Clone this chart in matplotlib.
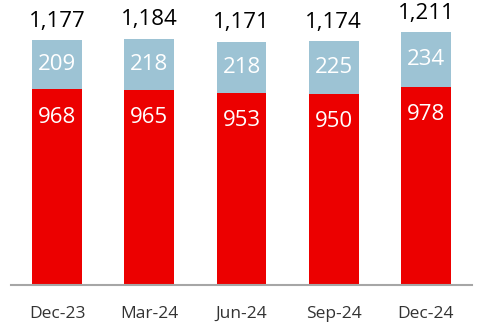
import matplotlib.pyplot as plt
import numpy as np

# Datos trimestrales
trimestres = ['Dec-23', 'Mar-24', 'Jun-24', 'Sep-24', 'Dec-24']
rojo = [968, 965, 953, 950, 978]
azul = [209, 218, 218, 225, 234]
totales = [1177, 1184, 1171, 1174, 1211]

plt.rcParams['font.family'] = ['Open Sans', 'DejaVu Sans']

fig = plt.figure(figsize=(4.82, 3.32), dpi=100)
ax = fig.add_axes([11/482, 47/332, 461/482, 285/332])

x = np.arange(len(trimestres))
ax.bar(x, rojo, width=0.54, color='#EC0000')
ax.bar(x, azul, width=0.54, bottom=rojo, color='#9DC3D4')

for i in range(len(x)):
    ax.annotate(f'{rojo[i]}', (x[i], rojo[i]), xytext=(0, -20), textcoords='offset points',
                ha='center', va='center', color='white', fontsize=16)
    ax.text(x[i], rojo[i] + azul[i] / 2, f'{azul[i]}', ha='center', va='center',
            color='white', fontsize=16)
    ax.annotate(f'{totales[i]:,}', (x[i], totales[i]), xytext=(0, 6), textcoords='offset points',
                ha='center', va='bottom', color='black', fontsize=16)

ax.set_xlim(-0.5, len(x) - 0.5)
ax.set_ylim(135, 1348)
ax.set_yticks([])
ax.set_xticks(x)
ax.set_xticklabels(trimestres, fontsize=12.5, color='#333333')
ax.tick_params(axis='x', length=0, pad=15)
for s in ['top', 'right', 'left']:
    ax.spines[s].set_visible(False)
ax.spines['bottom'].set_color('#A6A6A6')
ax.spines['bottom'].set_linewidth(1.5)

fig.savefig('out.png', dpi=100)
